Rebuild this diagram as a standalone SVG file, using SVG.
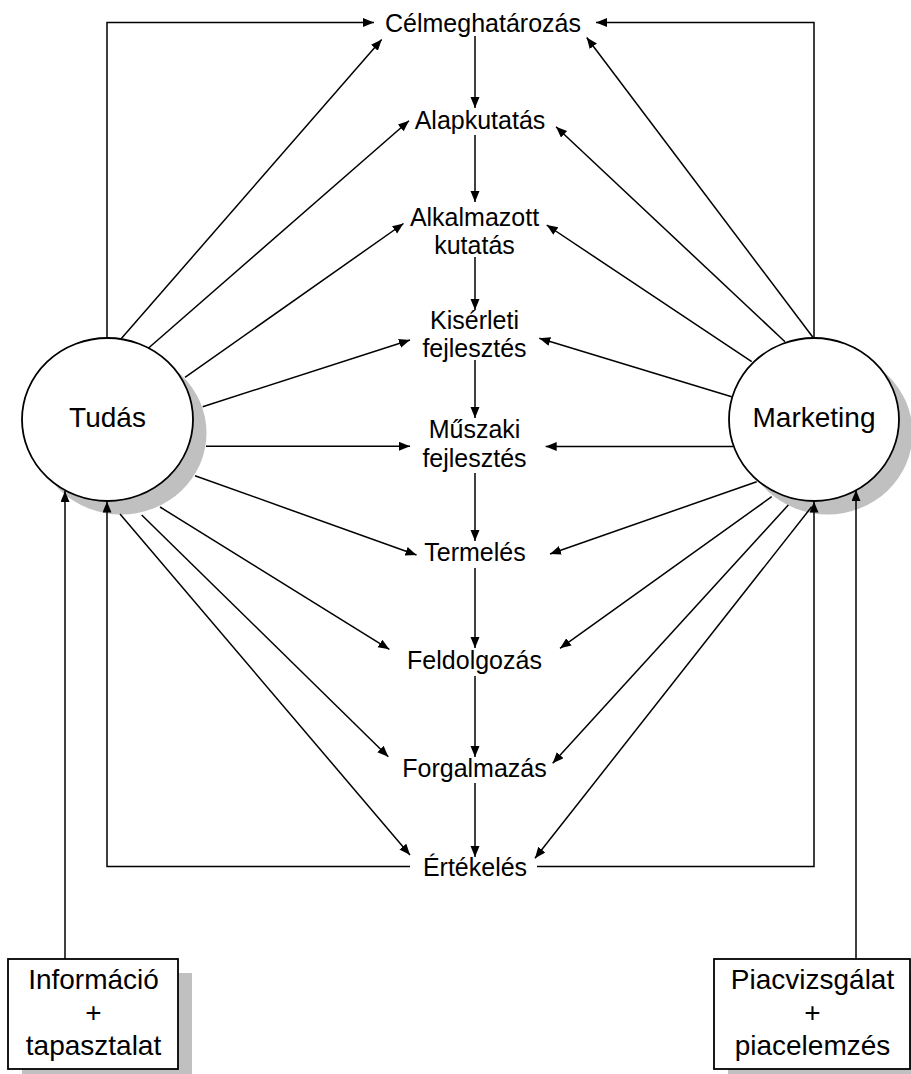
<svg xmlns="http://www.w3.org/2000/svg" width="911" height="1074" viewBox="0 0 911 1074">
  <style>
    .conn { fill: none; stroke: #000; stroke-width: 1.5; }
    .shadow { fill: #c0c0c0; stroke: none; }
    .shape { fill: #fff; stroke: #000; stroke-width: 1.8; }
    text { font-family: "Liberation Sans", Arial, sans-serif; fill: #000; text-anchor: middle; }
    .step { font-size: 25px; }
    .big { font-size: 28px; }
  </style>
  <defs>
    <marker id="arrow" markerUnits="userSpaceOnUse" markerWidth="12" markerHeight="10" refX="11" refY="4.5" orient="auto">
      <path d="M0,0 L11,4.5 L0,9 z" fill="#000"/>
    </marker>
  </defs>

  <rect width="911" height="1074" fill="#fff"/>

  <!-- round nodes -->
  <g id="tudas">
    <ellipse class="shadow" cx="121" cy="433" rx="85.5" ry="81.5"/>
    <ellipse class="shape" cx="107.5" cy="419.5" rx="85.5" ry="81.5"/>
    <text class="big" x="107.5" y="427">Tudás</text>
  </g>
  <g id="marketing">
    <ellipse class="shadow" cx="827.5" cy="433" rx="85" ry="81.5"/>
    <ellipse class="shape" cx="814" cy="419.5" rx="85" ry="81.5"/>
    <text class="big" x="814" y="427">Marketing</text>
  </g>

  <!-- input boxes -->
  <g id="informacio">
    <rect class="shadow" x="22" y="973" width="170" height="110"/>
    <rect class="shape" x="8" y="959" width="170" height="110"/>
    <text class="big" x="93.5" y="989">Információ</text>
    <text class="big" x="93.5" y="1022">+</text>
    <text class="big" x="93.5" y="1055">tapasztalat</text>
  </g>
  <g id="piacvizsgalat">
    <rect class="shadow" x="728" y="973" width="196" height="110"/>
    <rect class="shape" x="714" y="959" width="196" height="110"/>
    <text class="big" x="812.5" y="989">Piacvizsgálat</text>
    <text class="big" x="812.5" y="1022">+</text>
    <text class="big" x="812.5" y="1055">piacelemzés</text>
  </g>

  <!-- all connectors -->
  <g id="connectors" class="conn" marker-end="url(#arrow)">
    <!-- main chain, top to bottom -->
    <line x1="475" y1="36" x2="475" y2="108"/>
    <line x1="475" y1="135" x2="475" y2="202"/>
    <line x1="475" y1="257" x2="475" y2="310"/>
    <line x1="475" y1="360" x2="475" y2="418"/>
    <line x1="475" y1="473" x2="475" y2="541"/>
    <line x1="475" y1="568" x2="475" y2="648"/>
    <line x1="475" y1="676" x2="475" y2="757"/>
    <line x1="475" y1="783" x2="475" y2="857"/>

    <!-- feedback loops around the sides -->
    <polyline points="107,338 107,22.5 374,22.5"/>
    <polyline points="814,338 814,22.5 596,22.5"/>
    <polyline points="410,866.5 107,866.5 107,501.5"/>
    <polyline points="537,866.5 814,866.5 814,501.5"/>

    <!-- inputs from the boxes -->
    <line x1="65" y1="959" x2="65" y2="491"/>
    <line x1="856" y1="959" x2="856" y2="490"/>

    <!-- Tudás to every step -->
    <line x1="120.7" y1="339.3" x2="381.7" y2="39.5"/>
    <line x1="148.3" y1="348.3" x2="409" y2="120.7"/>
    <line x1="185" y1="377.3" x2="403.5" y2="223.5"/>
    <line x1="202.7" y1="406.7" x2="410" y2="340"/>
    <line x1="206" y1="446.3" x2="410" y2="446.3"/>
    <line x1="195" y1="475.7" x2="416.5" y2="555"/>
    <line x1="160" y1="507" x2="389.3" y2="649.3"/>
    <line x1="141.7" y1="515" x2="388.3" y2="756.7"/>
    <line x1="120" y1="514" x2="410" y2="855"/>

    <!-- Marketing to every step -->
    <line x1="812.7" y1="337" x2="586.7" y2="37.5"/>
    <line x1="785" y1="341.7" x2="556" y2="126.7"/>
    <line x1="751.7" y1="361.7" x2="546.7" y2="225"/>
    <line x1="731.7" y1="396.7" x2="539.3" y2="338.3"/>
    <line x1="733" y1="446.5" x2="545.7" y2="446.5"/>
    <line x1="756.7" y1="481.7" x2="550" y2="554"/>
    <line x1="771.7" y1="496.7" x2="560" y2="648.3"/>
    <line x1="788.3" y1="505" x2="552.7" y2="763.3"/>
    <line x1="811.7" y1="506.7" x2="535" y2="858.3"/>
  </g>

  <!-- process steps -->
  <g id="celmeghatarozas"><text class="step" x="483" y="32">Célmeghatározás</text></g>
  <g id="alapkutatas"><text class="step" x="480" y="129">Alapkutatás</text></g>
  <g id="alkalmazott-kutatas">
    <text class="step" x="474.5" y="226">Alkalmazott</text>
    <text class="step" x="474.5" y="254">kutatás</text>
  </g>
  <g id="kiserleti-fejlesztes">
    <text class="step" x="474.5" y="329">Kisérleti</text>
    <text class="step" x="474.5" y="357">fejlesztés</text>
  </g>
  <g id="muszaki-fejlesztes">
    <text class="step" x="474.5" y="438">Műszaki</text>
    <text class="step" x="474.5" y="467">fejlesztés</text>
  </g>
  <g id="termeles"><text class="step" x="475" y="561">Termelés</text></g>
  <g id="feldolgozas"><text class="step" x="474.5" y="669">Feldolgozás</text></g>
  <g id="forgalmazas"><text class="step" x="474.5" y="777">Forgalmazás</text></g>
  <g id="ertekeles"><text class="step" x="475" y="876">Értékelés</text></g>
</svg>
